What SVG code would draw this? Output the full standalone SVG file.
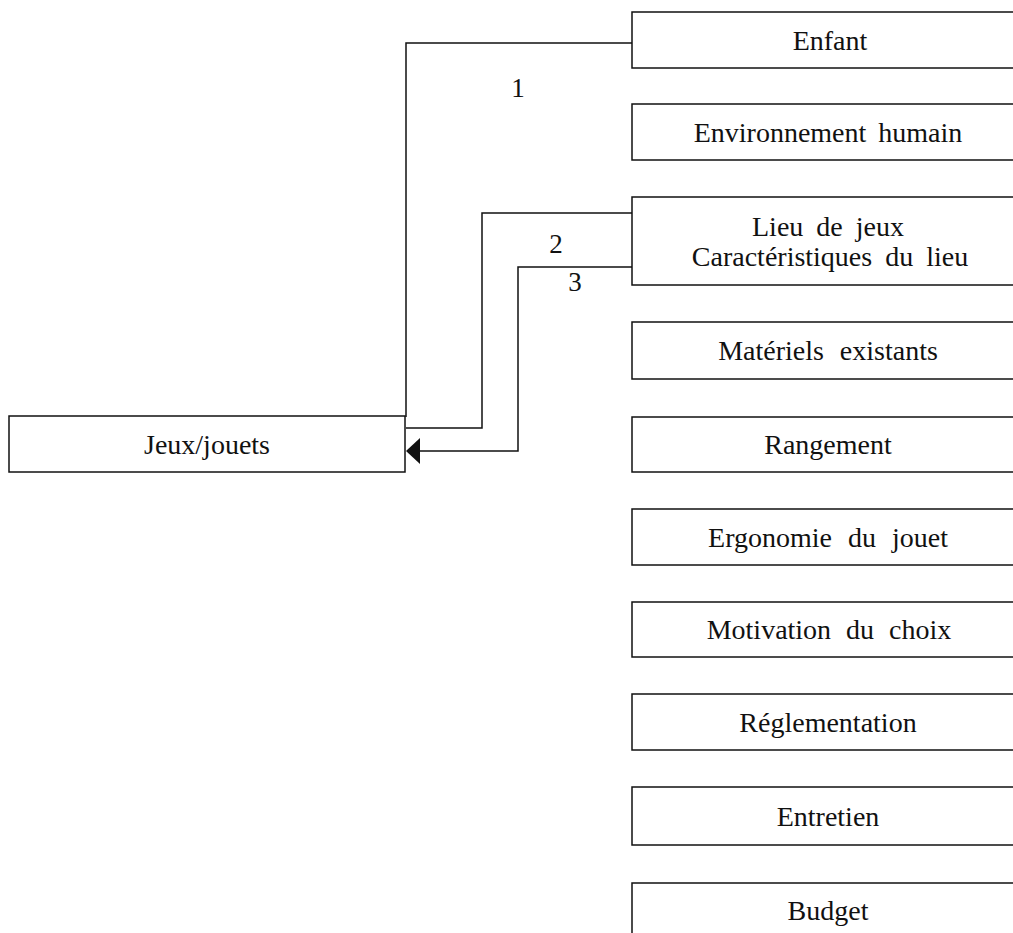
<svg xmlns="http://www.w3.org/2000/svg" width="1013" height="933" viewBox="0 0 1013 933">
<style>
rect.box{fill:#fff;stroke:#111;stroke-width:1.5}
text{font-family:"Liberation Serif","Times New Roman",serif;font-size:28px;fill:#111;text-anchor:middle}
text.num{font-size:27px}
.conn{fill:none;stroke:#111;stroke-width:1.5}
</style>
<rect width="1013" height="933" fill="#fff"/>
<g id="connectors">
<polyline class="conn" points="632,43 406,43 406,417"/>
<polyline class="conn" points="632,213 482,213 482,428 406,428"/>
<polyline class="conn" points="632,267 518,267 518,451 420,451"/>
<path d="M406,451 L420,438 L420,464 Z" fill="#111"/>
<text class="num" x="518" y="97">1</text>
<text class="num" x="556" y="253">2</text>
<text class="num" x="575" y="291">3</text>
</g>
<g id="jeux"><rect class="box" x="9" y="416" width="396" height="56"/><text x="207" y="454">Jeux/jouets</text></g>
<g id="enfant"><rect class="box" x="632" y="12" width="390" height="56"/><text x="830" y="50">Enfant</text></g>
<g id="environnement"><rect class="box" x="632" y="104" width="390" height="56"/><text x="828" y="142" word-spacing="5">Environnement humain</text></g>
<g id="lieu"><rect class="box" x="632" y="197" width="390" height="88"/><text x="828" y="236" word-spacing="6">Lieu de jeux</text><text x="830" y="266" word-spacing="6">Caractéristiques du lieu</text></g>
<g id="materiels"><rect class="box" x="632" y="322" width="390" height="57"/><text x="828" y="360" word-spacing="9">Matériels existants</text></g>
<g id="rangement"><rect class="box" x="632" y="417" width="390" height="55"/><text x="828" y="454">Rangement</text></g>
<g id="ergonomie"><rect class="box" x="632" y="509" width="390" height="56"/><text x="828" y="547" word-spacing="9">Ergonomie du jouet</text></g>
<g id="motivation"><rect class="box" x="632" y="602" width="390" height="55"/><text x="829" y="639" word-spacing="8">Motivation du choix</text></g>
<g id="reglementation"><rect class="box" x="632" y="694" width="390" height="56"/><text x="828" y="732">Réglementation</text></g>
<g id="entretien"><rect class="box" x="632" y="787" width="390" height="58"/><text x="828" y="826">Entretien</text></g>
<g id="budget"><rect class="box" x="632" y="883" width="390" height="60"/><text x="828" y="920">Budget</text></g>
</svg>
